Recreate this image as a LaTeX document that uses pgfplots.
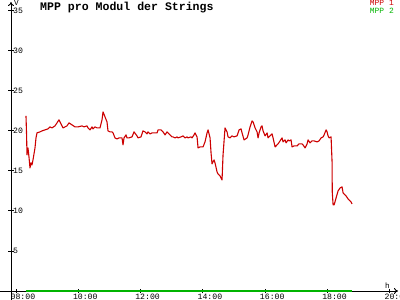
\documentclass[border=0pt]{standalone}
\usepackage{pgfplots}
\pgfplotsset{compat=1.18}
\usetikzlibrary{arrows.meta}
\usepackage{fontspec}
\setmainfont{Liberation Mono}
\definecolor{mpp1}{RGB}{204,0,0}
\definecolor{mpp2}{RGB}{0,180,0}
\begin{document}
\begin{tikzpicture}
\begin{axis}[
  at={(11bp,9bp)}, anchor=south west,
  scale only axis, width=387bp, height=289bp,
  xmin=7.84, xmax=20.26, ymin=0, ymax=36.1,
  axis lines=left,
  axis line style={line width=0.9bp, -{To[length=4bp,width=6bp]}},
  x axis line style={shorten <=-11bp},
  y axis line style={shorten <=-9bp},
  xtick={8,10,12,14,16,18,20},
  xticklabels={08:00,10:00,12:00,14:00,16:00,18:00,20:00},
  ytick={5,10,15,20,25,30,35},
  tick align=center, major tick length=5bp,
  tick style={black, line width=0.9bp},
  /pgf/number format/assume math mode=true,
  tick label style={font=\fontsize{8.2}{9}\selectfont, inner sep=0.5bp},
  xticklabel style={anchor=north west, xshift=-6bp},
  yticklabel style={anchor=west, xshift=4bp},
  clip=false,
]
\addplot[mpp2, line width=1.5bp] coordinates {(8.321,0) (18.786,0)};
\addplot[mpp1, line width=1.1bp, line join=round] coordinates {
(8.321,21.875) (8.340,19.5) (8.353,17.0) (8.385,17.875) (8.417,16.75) (8.449,15.375) (8.482,16.0) (8.514,15.75) (8.546,16.375) (8.610,17.875) (8.642,19.125) (8.674,19.75) (8.770,19.875) (8.835,20.0) (8.931,20.125) (9.027,20.25) (9.091,20.5) (9.156,20.375) (9.252,20.625) (9.380,21.375) (9.445,20.875) (9.509,20.375) (9.573,20.5) (9.637,20.625) (9.701,21.0) (9.798,20.75) (9.894,20.5) (9.990,20.5) (10.119,20.625) (10.183,20.5) (10.279,20.625) (10.311,20.375) (10.376,20.125) (10.440,20.5) (10.472,20.25) (10.536,20.5) (10.600,20.375) (10.697,20.375) (10.761,21.375) (10.793,22.375) (10.857,21.75) (10.921,21.125) (10.953,20.0) (11.018,19.875) (11.082,19.875) (11.114,19.75) (11.178,19.125) (11.242,19.0) (11.307,19.125) (11.371,19.125) (11.403,19.125) (11.435,18.25) (11.467,19.125) (11.531,19.5) (11.563,19.125) (11.628,19.125) (11.724,19.25) (11.788,19.875) (11.884,19.375) (11.917,19.125) (12.013,19.25) (12.077,20.0) (12.141,19.875) (12.205,19.625) (12.238,19.875) (12.302,19.625) (12.366,19.75) (12.462,19.75) (12.527,19.75) (12.559,20.125) (12.655,20.125) (12.719,19.875) (12.783,19.5) (12.848,19.875) (12.880,19.75) (12.944,19.5) (13.008,19.25) (13.040,19.25) (13.104,19.125) (13.169,19.25) (13.201,19.125) (13.297,19.25) (13.361,19.375) (13.425,19.125) (13.490,19.25) (13.522,19.125) (13.618,19.25) (13.650,19.125) (13.714,19.5)
(13.746,19.75) (13.811,19.25) (13.843,17.875) (13.907,18.0) (14.003,18.0) (14.067,18.625) (14.132,19.75) (14.164,20.125) (14.228,19.125) (14.260,17.25) (14.292,15.875) (14.324,16.125) (14.356,16.375) (14.388,16.0) (14.453,14.875) (14.485,14.625) (14.549,14.375) (14.613,13.875) (14.645,17.0) (14.709,20.375) (14.774,19.875) (14.806,19.25) (14.870,19.125) (14.934,19.375) (14.998,19.25) (15.095,19.375) (15.159,20.125) (15.223,20.25) (15.255,19.75) (15.319,18.875) (15.416,19.125) (15.448,19.5) (15.512,20.5) (15.576,21.25) (15.608,21.125) (15.673,20.375) (15.737,19.875) (15.769,19.125) (15.801,19.75) (15.865,20.5) (15.897,20.625) (15.929,20.0) (15.994,19.375) (16.058,19.75) (16.090,19.125) (16.154,19.375) (16.218,19.625) (16.250,19.125) (16.315,18.0) (16.379,18.25) (16.411,18.375) (16.475,18.75) (16.539,19.125) (16.571,18.625) (16.636,18.875) (16.668,18.5) (16.732,18.875) (16.764,18.75) (16.828,18.875) (16.860,18.0) (16.925,18.125) (17.021,18.125) (17.085,18.375) (17.181,18.375) (17.213,18.25) (17.278,17.875) (17.342,18.375) (17.374,18.875) (17.438,18.5) (17.502,18.75) (17.567,18.75) (17.663,18.625) (17.727,18.75) (17.791,19.125) (17.856,19.25) (17.888,19.5) (17.952,20.125) (17.984,19.875) (18.016,19.375) (18.048,19.125) (18.112,19.25) (18.144,16.125) (18.150,12.375) (18.177,10.75) (18.209,10.75) (18.273,11.625) (18.337,12.5) (18.401,12.875) (18.465,13.0) (18.498,12.25) (18.594,11.875) (18.658,11.5) (18.754,11.125) (18.786,10.875)
};
\end{axis}
\node[anchor=base west, inner sep=0, font=\fontsize{11.6}{12}\selectfont\bfseries] at (40bp,289bp) {MPP pro Modul der Strings};
\node[anchor=north east, inner sep=0, font=\fontsize{8}{8}\selectfont, text=mpp1] at (394bp,299.5bp) {MPP 1};
\node[anchor=north east, inner sep=0, font=\fontsize{8}{8}\selectfont, text=mpp2] at (394bp,292.5bp) {MPP 2};
\node[anchor=base west, inner sep=0, font=\fontsize{7.7}{8}\selectfont] at (14bp,294bp) {V};
\node[anchor=base west, inner sep=0, font=\fontsize{7.7}{8}\selectfont] at (385bp,12bp) {h};
\pgfresetboundingbox
\path (0,0) rectangle (400bp,300bp);
\end{tikzpicture}
\end{document}
